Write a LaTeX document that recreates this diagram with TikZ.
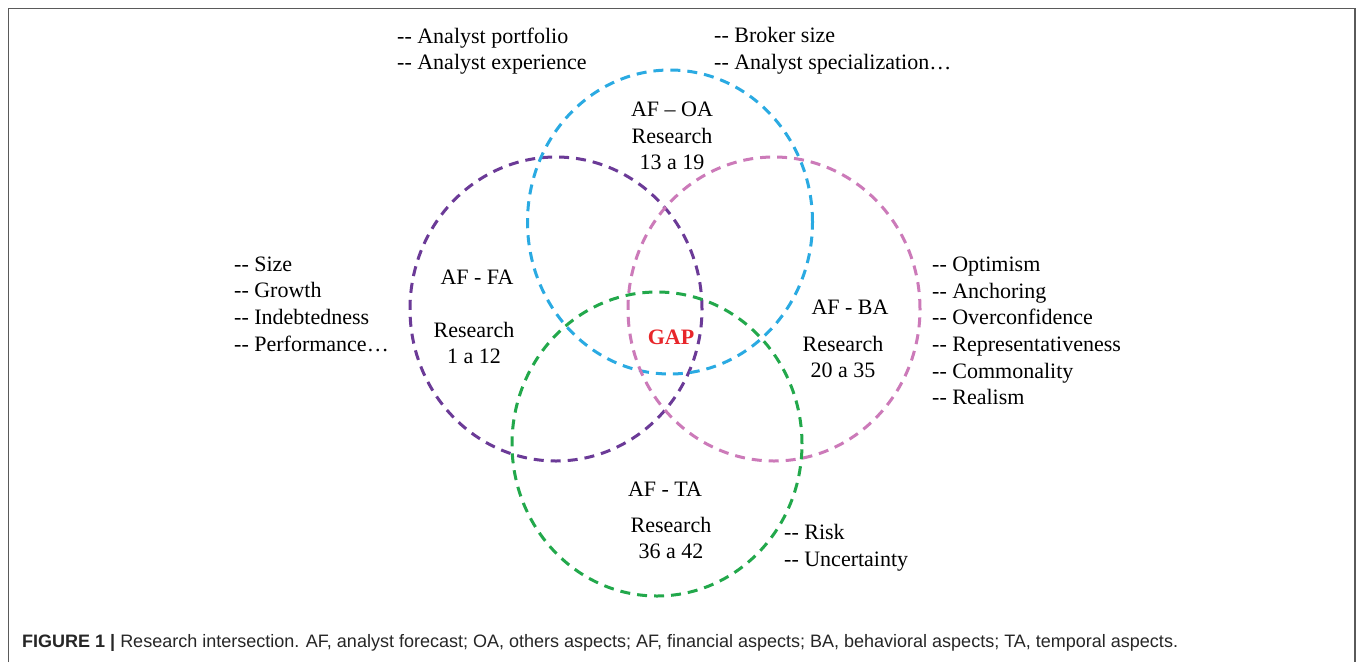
\documentclass[tikz,border=0pt]{standalone}
\usepackage{fontspec}
\setmainfont{Liberation Serif}
\newfontfamily\capfont{Liberation Sans}
\usetikzlibrary{shapes.geometric}
\definecolor{cpurple}{HTML}{6B3A97}
\definecolor{cblue}{HTML}{2AAAE2}
\definecolor{cpink}{HTML}{CC7AB9}
\definecolor{cgreen}{HTML}{22A84B}
\definecolor{cframe}{HTML}{5A5A5A}
\definecolor{cgap}{HTML}{E8262A}
\newcommand{\dd}{-{}-}
\begin{document}
\begin{tikzpicture}[x=1pt,y=-1pt,
  ring/.style={ellipse, draw, line width=3pt, dash pattern=on 10pt off 7pt, minimum width=292pt, minimum height=304pt, inner sep=0pt},
  lbl/.style={font=\fontsize{22}{26.7}\selectfont, align=center, inner sep=0pt},
  lst/.style={font=\fontsize{22}{26.7}\selectfont, align=left, inner sep=0pt, anchor=west}]
\useasboundingbox (0,0) rectangle (1357,662);
\fill[white] (0,0) rectangle (1357,662);
\draw[cframe, line width=1.5pt] (8.5,662) -- (8.5,8.5) -- (1355,8.5) -- (1355,662);
% circles
\node[ring, draw=cpurple] (fa) at (556,309) {};
\node[ring, draw=cblue, minimum width=285pt] (oa) at (670,222) {};
\node[ring, draw=cpink] (ba) at (774,309) {};
\node[ring, draw=cgreen, minimum width=290pt] (ta) at (657,444) {};
% labels
\node[lbl] (toa) at (672,136) {AF -- OA\\Research\\13 a 19};
\node[lbl] (tfa1) at (477,277) {AF - FA};
\node[lbl] (tfa2) at (474,343) {Research\\1 a 12};
\node[lbl] (tba1) at (850,307) {AF - BA};
\node[lbl] (tba2) at (843,357) {Research\\20 a 35};
\node[lbl] (tta1) at (665,489) {AF - TA};
\node[lbl] (tta2) at (671,538) {Research\\36 a 42};
\node[lbl, text=cgap, font=\fontsize{22}{26}\selectfont\bfseries] (gap) at (671,337) {GAP};
% lists
\node[lst] (l1) at (397,51) {\dd{} Analyst portfolio\\\dd{} Analyst experience};
\node[lst] (l2) at (714,50.5) {\dd{} Broker size\\\dd{} Analyst specialization\ldots};
\node[lst] (l3) at (234,304) {\dd{} Size\\\dd{} Growth\\\dd{} Indebtedness\\\dd{} Performance\ldots};
\node[lst] (l4) at (932,331) {\dd{} Optimism\\\dd{} Anchoring\\\dd{} Overconfidence\\\dd{} Representativeness\\\dd{} Commonality\\\dd{} Realism};
\node[lst] (l5) at (784,548) {\dd{} Risk\\\dd{} Uncertainty};
% caption
\node[anchor=west, inner sep=0pt, font=\capfont\fontsize{18}{20}\selectfont, text=black!85] (cap) at (22,643)
 {\textbf{FIGURE 1 |} Research intersection. AF, analyst forecast; OA, others aspects; AF, financial aspects; BA, behavioral aspects; TA, temporal aspects.};
\end{tikzpicture}
\end{document}
